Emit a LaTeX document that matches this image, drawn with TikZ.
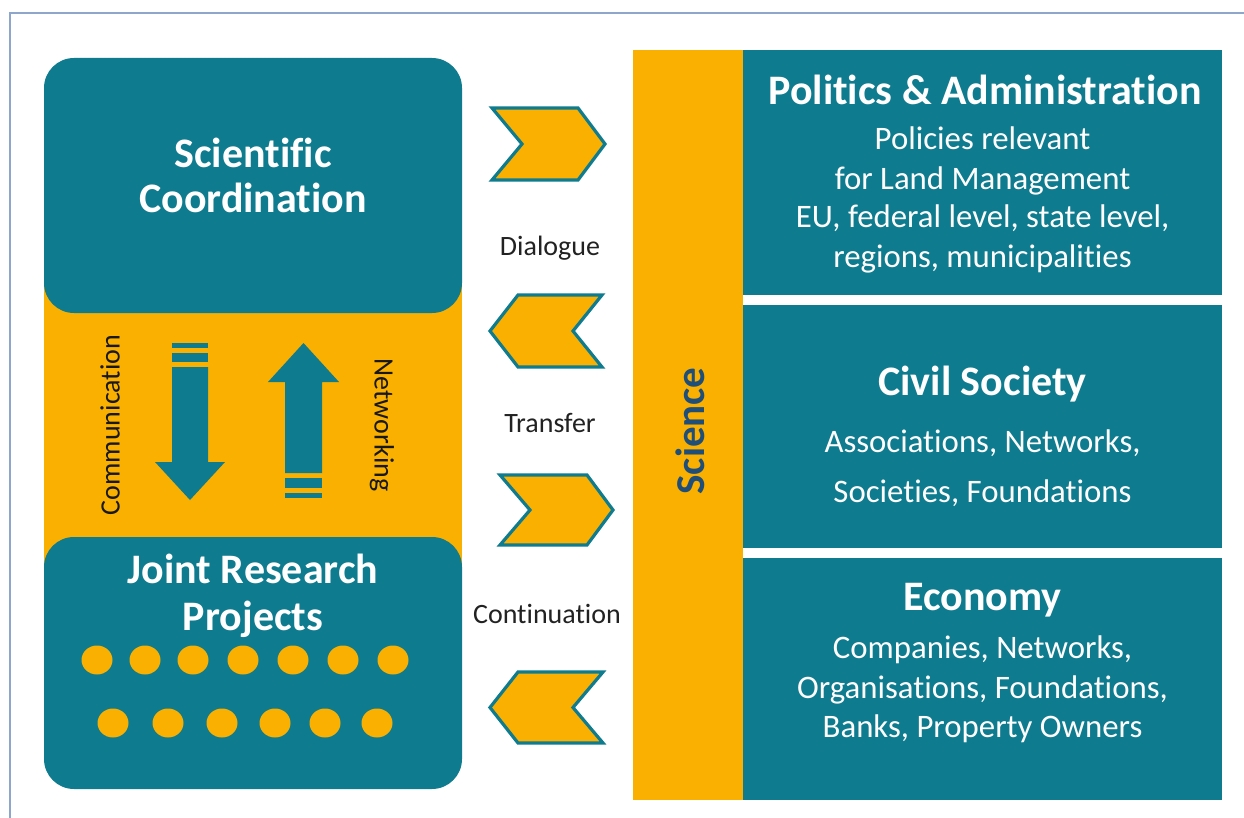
\documentclass[tikz,border=0pt]{standalone}
\usepackage{fontspec}
\setmainfont[Ligatures={NoCommon}]{Carlito}
\usetikzlibrary{shapes.geometric}
\definecolor{tealc}{HTML}{0E7B8F}
\definecolor{amber}{HTML}{F9B000}
\definecolor{framec}{HTML}{8FA6CC}
\definecolor{navy}{HTML}{1F4E79}
\definecolor{labelc}{HTML}{222222}
\tikzset{
  panel/.style={inner sep=0pt, outer sep=0pt},
  tealbox/.style={panel, fill=tealc},
  amberbox/.style={panel, fill=amber},
  title/.style={anchor=base, inner sep=0pt, text=white, font=\fontsize{42}{50}\selectfont\bfseries},
  sub/.style={anchor=base, inner sep=0pt, text=white, font=\fontsize{32.8}{39}\selectfont},
  lbl/.style={anchor=base, inner sep=0pt, text=labelc, font=\fontsize{28}{34}\selectfont},
  vlbl/.style={inner sep=0pt, text=labelc!70!black, font=\fontsize{28}{34}\selectfont},
  chev/.style={fill=amber, draw=tealc, line width=3.2pt, line join=miter},
  blockarrow/.style={fill=tealc},
  dot/.style={ellipse, fill=amber, inner sep=0pt, minimum width=31pt, minimum height=29pt},
  frameline/.style={draw=framec, line width=2pt}
}
\begin{document}
\begin{tikzpicture}[x=1pt,y=-1pt]
\useasboundingbox (0,0) rectangle (1244,818);
\fill[white] (0,0) rectangle (1244,818);
\draw[frameline] (10,818) -- (10,13) -- (1244,13);

% left panel
\node[amberbox, minimum width=418pt, minimum height=360pt] (band) at (253,425) {};
\node[tealbox, rounded corners=30pt, minimum width=418pt, minimum height=255pt] (sc) at (253,185.5) {};
\node[tealbox, rounded corners=30pt, minimum width=418pt, minimum height=252pt] (jrp) at (253,663) {};

\node[title] (sc1) at (253,168) {Scientific};
\node[title] (sc2) at (253,213) {Coordination};
\node[title] (jr1) at (253,583) {Joint Research};
\node[title] (jr2) at (253,630) {Projects};

\foreach \i/\x in {1/97,2/145,3/193,4/243,5/293,6/343,7/393}
  \node[dot] (da\i) at (\x,660) {};
\foreach \i/\x in {1/113,2/168,3/222,4/275,5/325,6/377}
  \node[dot] (db\i) at (\x,723) {};

% block arrows
\fill[blockarrow] (172,343) rectangle (208,348);
\fill[blockarrow] (172,353) rectangle (208,362);
\fill[blockarrow] (172,367) -- (208,367) -- (208,462) -- (225,462) -- (190,500)
  -- (155,462) -- (172,462) -- cycle;
\fill[blockarrow] (285,473) -- (285,382) -- (268,382) -- (303.5,343) -- (339,382)
  -- (322,382) -- (322,473) -- cycle;
\fill[blockarrow] (285,478) rectangle (322,488);
\fill[blockarrow] (285,493) rectangle (322,498);

\node[vlbl, rotate=90] (comm) at (110,425) {Communication};
\node[vlbl, rotate=-90] (netw) at (382,425) {Networking};

% chevrons
\draw[chev] (492,108) -- (578,108) -- (605,144) -- (578,180) -- (492,180) -- (522,144) -- cycle;
\draw[chev] (490,331) -- (518,295) -- (602,295) -- (573,331) -- (602,367) -- (518,367) -- cycle;
\draw[chev] (500,475) -- (587,475) -- (613,510) -- (587,545) -- (500,545) -- (530,510) -- cycle;
\draw[chev] (490,707.5) -- (518,672) -- (603,672) -- (573,707.5) -- (603,743) -- (518,743) -- cycle;

\node[lbl] (dia) at (550,255) {Dialogue};
\node[lbl] (tra) at (550,432) {Transfer};
\node[lbl] (con) at (547,623) {Continuation};

% science column
\node[amberbox, minimum width=110pt, minimum height=750pt] (sci) at (688,425) {};
\node[rotate=90, inner sep=0pt, text=navy, font=\fontsize{41}{49}\selectfont\bfseries] (scit) at (690,431) {Science};

% right boxes
\node[tealbox, minimum width=479pt, minimum height=245pt] (pol) at (982.5,172.5) {};
\node[tealbox, minimum width=479pt, minimum height=243pt] (civ) at (982.5,426.5) {};
\node[tealbox, minimum width=479pt, minimum height=242pt] (eco) at (982.5,679) {};

\node[title] (pol0) at (985,105) {Politics \& Administration};
\node[sub] (pol1) at (982.5,150) {Policies relevant};
\node[sub] (pol2) at (982.5,190) {for Land Management};
\node[sub] (pol3) at (982.5,228) {EU, federal level, state level,};
\node[sub] (pol4) at (982.5,267) {regions, municipalities};

\node[title] (civ0) at (982.5,395) {Civil Society};
\node[sub] (civ1) at (982.5,452) {Associations, Networks,};
\node[sub] (civ2) at (982.5,502) {Societies, Foundations};

\node[title] (eco0) at (982.5,610) {Economy};
\node[sub] (eco1) at (982.5,658) {Companies, Networks,};
\node[sub] (eco2) at (982.5,698) {Organisations, Foundations,};
\node[sub] (eco3) at (982.5,737) {Banks, Property Owners};
\end{tikzpicture}
\end{document}
